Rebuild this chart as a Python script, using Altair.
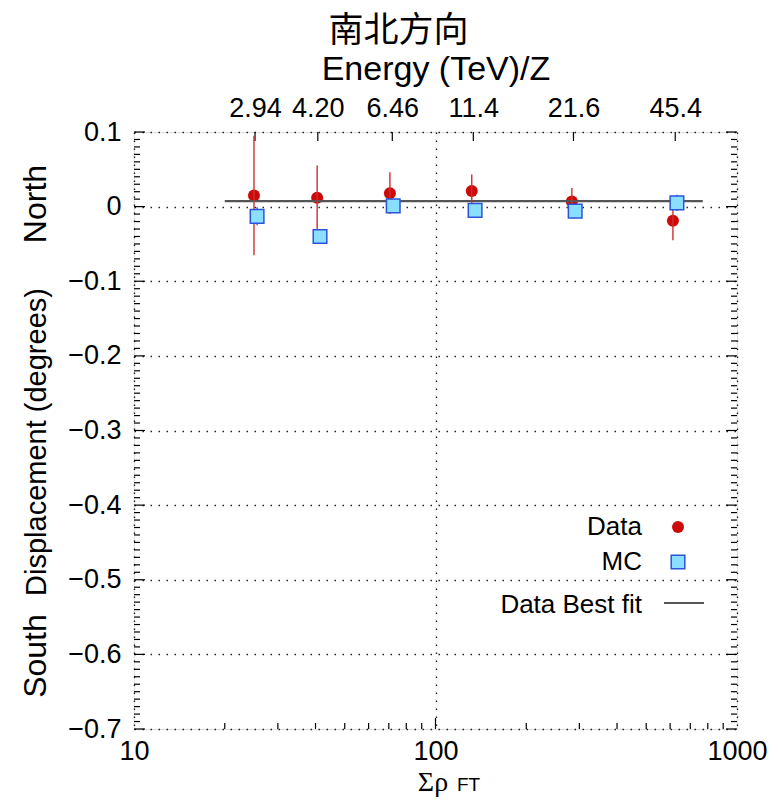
import altair as alt
import pandas as pd

# ---------------- data ----------------
energy_labels = ["2.94", "4.20", "6.46", "11.4", "21.6", "45.4"]
energy_pos = [25.2, 40.7, 71.9, 133.5, 286.8, 624.0]

data_x = [25.0, 40.5, 70.6, 131.9, 283.3, 613.0]
data_y = [0.015, 0.012, 0.018, 0.021, 0.007, -0.019]
data_err = [0.080, 0.043, 0.028, 0.022, 0.018, 0.026]

mc_x = [25.6, 41.4, 72.4, 135.3, 290.6, 632.0]
mc_y = [-0.013, -0.040, 0.001, -0.005, -0.006, 0.005]
mc_err = [0.012, 0.004, 0.009, 0.004, 0.004, 0.011]

fit_x = [20, 770]
fit_y = [0.0075, 0.0075]

x_major = [10, 100, 1000]
x_minor = [20, 30, 40, 50, 60, 70, 80, 90, 200, 300, 400, 500, 600, 700, 800, 900]
y_major = [-0.7, -0.6, -0.5, -0.4, -0.3, -0.2, -0.1, 0.0, 0.1]
y_minor = [round(-0.7 + 0.01 * i, 2) for i in range(81) if i % 10 != 0]

# ---------------- frames ----------------
df_data = pd.DataFrame({"x": data_x, "y": data_y,
                        "lo": [v - e for v, e in zip(data_y, data_err)],
                        "hi": [v + e for v, e in zip(data_y, data_err)]})
df_mc = pd.DataFrame({"x": mc_x, "y": mc_y,
                      "lo": [v - e for v, e in zip(mc_y, mc_err)],
                      "hi": [v + e for v, e in zip(mc_y, mc_err)]})
df_fit = pd.DataFrame({"x": fit_x, "y": fit_y})
df_top = pd.DataFrame({"x": energy_pos, "label": energy_labels})
df_xminor = pd.DataFrame({"x": x_minor})
df_xmajor = pd.DataFrame({"x": [100]})
df_yminor = pd.DataFrame({"y": y_minor})
df_ymajor = pd.DataFrame({"y": y_major})
df_one = pd.DataFrame({"k": [0]})

W, H = 603, 597
FONT = "Liberation Sans"
RED = "#cc0a0a"
SQ_FILL = "#8adfff"
SQ_STROKE = "#2a55d8"
GRID_DASH = [1.5, 6.5]
LAB = 27
DOT = 145
SQ = 185

xs = alt.Scale(type="log", domain=[10, 1000])
ys = alt.Scale(domain=[-0.7, 0.1], nice=False, zero=False)

# top-axis label expression built from the arrays
thr = [(energy_pos[i] * energy_pos[i + 1]) ** 0.5 for i in range(len(energy_pos) - 1)]
expr = ""
for t, lab in zip(thr, energy_labels[:-1]):
    expr += f"datum.value < {t:.3f} ? '{lab}' : "
expr += f"'{energy_labels[-1]}'"

x_bottom = alt.Axis(orient="bottom", values=x_major, format="d", grid=True,
                    gridDash=GRID_DASH, gridColor="#222", gridWidth=1.4,
                    ticks=False, domain=False, labelFontSize=LAB, labelFont=FONT,
                    labelColor="black", labelPadding=9, labelFlush=False,
                    labelOverlap=False, title=None)
y_left = alt.Axis(orient="left", values=y_major, format=".1~f", grid=True,
                  gridDash=GRID_DASH, gridColor="#222", gridWidth=1.4, ticks=False,
                  domain=False, labelFontSize=LAB, labelFont=FONT, labelColor="black",
                  labelPadding=13, labelOverlap=False, labelFlush=False, title=None)
x_top = alt.Axis(orient="top", values=energy_pos, labelExpr=expr, grid=False,
                 ticks=False, domain=False, labelFontSize=LAB, labelFont=FONT,
                 labelColor="black", labelPadding=10, labelOverlap=False,
                 labelFlush=False, title="Energy (TeV)/Z", titleFontSize=34,
                 titleFont=FONT, titleFontWeight="normal", titleColor="black",
                 titleY=-53, titleBaseline="alphabetic")

base_style = dict(strokeWidth=1.2, color="black")

# fit line
fit = alt.Chart(df_fit).mark_line(color="#555555", strokeWidth=2.2).encode(
    x=alt.X("x:Q", scale=xs, axis=None), y=alt.Y("y:Q", scale=ys, axis=None))

# error bars
err_data = alt.Chart(df_data).mark_rule(color="#d03030", strokeWidth=1.4).encode(
    x=alt.X("x:Q", scale=xs, axis=None), y=alt.Y("lo:Q", scale=ys, axis=None), y2="hi:Q")
err_mc = alt.Chart(df_mc).mark_rule(color=SQ_STROKE, strokeWidth=1.4).encode(
    x=alt.X("x:Q", scale=xs, axis=None), y=alt.Y("lo:Q", scale=ys, axis=None), y2="hi:Q")

# points (this layer carries the bottom and left axes)
pts_data = alt.Chart(df_data).mark_circle(size=DOT, color=RED, opacity=1).encode(
    x=alt.X("x:Q", scale=xs, axis=x_bottom), y=alt.Y("y:Q", scale=ys, axis=y_left))
pts_mc = alt.Chart(df_mc).mark_point(shape="square", size=SQ, filled=True, fill=SQ_FILL,
                                     stroke=SQ_STROKE, strokeWidth=1.5, opacity=1).encode(
    x=alt.X("x:Q", scale=xs, axis=None), y=alt.Y("y:Q", scale=ys, axis=None))

# top energy ticks (this layer carries the top axis)
top_ticks = alt.Chart(df_top).mark_rule(**base_style).encode(
    x=alt.X("x:Q", scale=xs, axis=x_top), y=alt.value(0), y2=alt.value(9))

# inward minor / major ticks
xminor_ticks = alt.Chart(df_xminor).mark_rule(**base_style).encode(
    x=alt.X("x:Q", scale=xs, axis=None), y=alt.value(H), y2=alt.value(H - 6))
xmajor_ticks = alt.Chart(df_xmajor).mark_rule(**base_style).encode(
    x=alt.X("x:Q", scale=xs, axis=None), y=alt.value(H), y2=alt.value(H - 11))
yminor_l = alt.Chart(df_yminor).mark_rule(**base_style).encode(
    y=alt.Y("y:Q", scale=ys, axis=None), x=alt.value(0), x2=alt.value(6))
yminor_r = alt.Chart(df_yminor).mark_rule(**base_style).encode(
    y=alt.Y("y:Q", scale=ys, axis=None), x=alt.value(W), x2=alt.value(W - 6))
ymajor_l = alt.Chart(df_ymajor).mark_rule(**base_style).encode(
    y=alt.Y("y:Q", scale=ys, axis=None), x=alt.value(0), x2=alt.value(11))
ymajor_r = alt.Chart(df_ymajor).mark_rule(**base_style).encode(
    y=alt.Y("y:Q", scale=ys, axis=None), x=alt.value(W), x2=alt.value(W - 11))

# y-axis titles
def ytitle(txt, ypix, size):
    return alt.Chart(df_one).mark_text(
        text=txt, angle=270, font=FONT, fontSize=size, color="black",
        align="center", baseline="alphabetic").encode(x=alt.value(-88), y=alt.value(ypix))

t_north = ytitle("North", 72, 32)
t_disp = ytitle("Displacement (degrees)", 310, 29)
t_south = ytitle("South", 524, 32)

# x-axis title  Σρ FT
t_sig = alt.Chart(df_one).mark_text(
    text="Σρ", font="Liberation Serif", fontSize=28, color="black",
    align="center", baseline="alphabetic").encode(x=alt.value(299), y=alt.value(659))
t_ft = alt.Chart(df_one).mark_text(
    text="FT", font=FONT, fontSize=19, color="black",
    align="left", baseline="alphabetic").encode(x=alt.value(323), y=alt.value(659))

# legend
def leg_text(txt, ypix):
    return alt.Chart(df_one).mark_text(
        text=txt, font=FONT, fontSize=26, color="black", align="right",
        baseline="middle").encode(x=alt.value(508), y=alt.value(ypix))

leg1 = leg_text("Data", 395)
leg2 = leg_text("MC", 430)
leg3 = leg_text("Data Best fit", 473)
leg_dot = alt.Chart(df_one).mark_circle(size=DOT, color=RED, opacity=1).encode(
    x=alt.value(544), y=alt.value(395))
leg_sq = alt.Chart(df_one).mark_point(shape="square", size=SQ, filled=True,
                                      fill=SQ_FILL, stroke=SQ_STROKE,
                                      strokeWidth=1.5, opacity=1).encode(
    x=alt.value(544), y=alt.value(430))
leg_line = alt.Chart(df_one).mark_rule(color="#555555", strokeWidth=2).encode(
    x=alt.value(530), x2=alt.value(570), y=alt.value(471))

chart = alt.layer(
    pts_data, top_ticks, fit, err_data, err_mc, pts_mc,
    xminor_ticks, xmajor_ticks, yminor_l, yminor_r, ymajor_l, ymajor_r,
    t_north, t_disp, t_south, t_sig, t_ft,
    leg1, leg2, leg3, leg_dot, leg_sq, leg_line,
).resolve_axis(x="independent", y="independent").properties(
    width=W, height=H,
    title=alt.Title("南北方向", font="Noto Sans CJK SC", fontSize=35,
                    fontWeight="normal", color="black", anchor="middle",
                    dx=-37, offset=3),
    autosize=alt.AutoSizeParams(type="none"),
    padding={"left": 126, "top": 124, "right": 32, "bottom": 68},
).configure_view(stroke="black", strokeWidth=1.5).configure(background="white")

chart.save("out.html", embed_options={"renderer": "svg", "actions": False})
